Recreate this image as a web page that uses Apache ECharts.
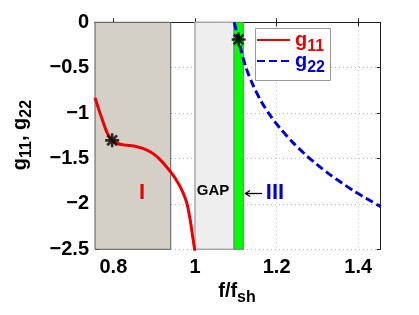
<!DOCTYPE html>
<html><head><meta charset="utf-8">
<script src="https://cdn.jsdelivr.net/npm/echarts@6/dist/echarts.min.js"></script>
<style>html,body{margin:0;padding:0;background:#fff}#c{width:419px;height:315px}</style>
</head><body><div id="c"></div><script>
// ---- data ----
const xTicks = [0.8, 1.0, 1.2, 1.4];
const yTicks = [0, -0.5, -1, -1.5, -2, -2.5];
const xRange = [0.755, 1.455];
const yRange = [-2.5, 0];
const g11F = [0.755, 0.765, 0.775, 0.785, 0.797, 0.81, 0.825, 0.84, 0.855, 0.87, 0.885, 0.90, 0.915, 0.93, 0.945, 0.96, 0.97, 0.98, 0.988, 0.994, 0.998, 1.0];
const g11V = [-0.83, -0.97, -1.10, -1.22, -1.30, -1.335, -1.350, -1.358, -1.367, -1.385, -1.413, -1.455, -1.515, -1.59, -1.675, -1.78, -1.87, -1.99, -2.17, -2.35, -2.47, -2.53];
const g22F = [1.096, 1.107, 1.113, 1.125, 1.142, 1.162, 1.185, 1.21, 1.24, 1.27, 1.30, 1.33, 1.36, 1.39, 1.42, 1.455];
const g22V = [0, -0.19, -0.31, -0.50, -0.69, -0.87, -1.03, -1.175, -1.325, -1.455, -1.57, -1.675, -1.77, -1.86, -1.94, -2.03];
const starF = [0.797, 1.107];
const starV = [-1.30, -0.19];
const regionI = [0.755, 0.9405];
const regionGap = [1.0, 1.0956];
const regionIII = [1.0956, 1.1185];
const seriesNames = ['g11', 'g22'];

// ---- styles ----
const FONT = 'Liberation Sans';
const RED = '#ee0000';
const BLUE = '#0000dd';
const fmtNum = v => (Math.abs(v) < 1e-9 ? '0' : String(Math.round(v * 10) / 10).replace('-', '\u2212'));
const zip = (a, b) => a.map((v, i) => [v, b[i]]);
const STAR = 'path://M0,-10 L0,10 M-10,0 L10,0 M-7,-7 L7,7 M-7,7 L7,-7';
const subRich = (color) => ({
  m: { fontFamily: FONT, fontWeight: 'bold', fontSize: 20, lineHeight: 20, color: color },
  s: { fontFamily: FONT, fontWeight: 'bold', fontSize: 16, lineHeight: 20, padding: [14, 0, 0, 0], color: color }
});
const axisCommon = {
  axisLine: { show: true, lineStyle: { color: '#222', width: 1 } },
  axisTick: { show: true, inside: true, length: 4, lineStyle: { color: '#222' } }
};
const legendFor = (name, color, top) => ({
  left: 256, top: top, orient: 'vertical', z: 6,
  padding: 0, itemWidth: 33, itemHeight: 12,
  backgroundColor: 'rgba(0,0,0,0)', borderWidth: 0,
  selectedMode: false,
  itemStyle: { color: 'rgba(0,0,0,0)', borderColor: 'rgba(0,0,0,0)', borderWidth: 0 },
  data: [{ name: name, textStyle: { rich: subRich(color) } }],
  formatter: n => '{m|g}{s|' + n.slice(1) + '}'
});

const chart = echarts.init(document.getElementById('c'), null, { renderer: 'canvas' });
chart.setOption({
  animation: false,
  backgroundColor: '#fff',
  grid: { left: 95, right: 38.3, top: 22.3, bottom: 65.7, containLabel: false },
  xAxis: [
    Object.assign({}, axisCommon, {
      type: 'value', position: 'bottom', min: xRange[0], max: xRange[1],
      axisTick: Object.assign({}, axisCommon.axisTick, { customValues: xTicks }),
      axisLabel: { customValues: xTicks, formatter: fmtNum, margin: 8, color: '#000', fontFamily: FONT, fontWeight: 'bold', fontSize: 20 },
      splitLine: { show: true, lineStyle: { color: '#b8b8b8', type: [1, 3], width: 1 } }
    }),
    Object.assign({}, axisCommon, {
      type: 'value', position: 'top', min: xRange[0], max: xRange[1],
      axisTick: Object.assign({}, axisCommon.axisTick, { customValues: xTicks }),
      axisLabel: { show: false, customValues: xTicks },
      splitLine: { show: false }
    })
  ],
  yAxis: [
    Object.assign({}, axisCommon, {
      type: 'value', position: 'left', min: yRange[0], max: yRange[1], interval: 0.5,
      axisLabel: { formatter: fmtNum, margin: 6, color: '#000', fontFamily: FONT, fontWeight: 'bold', fontSize: 20 },
      splitLine: { show: true, lineStyle: { color: '#b8b8b8', type: [1, 3], width: 1 } }
    }),
    Object.assign({}, axisCommon, {
      type: 'value', position: 'right', min: yRange[0], max: yRange[1], interval: 0.5,
      axisLabel: { show: false }, splitLine: { show: false }
    })
  ],
  legend: [legendFor(seriesNames[0], RED, 25), legendFor(seriesNames[1], BLUE, 46)],
  series: [
    {
      name: 'regions', type: 'line', data: [], z: 1, silent: true,
      markArea: {
        silent: true,
        data: [
          [{ xAxis: regionI[0], itemStyle: { color: '#d4d0c8', borderColor: '#5a5a5a', borderWidth: 1 } }, { xAxis: regionI[1] }],
          [{ xAxis: regionGap[0], itemStyle: { color: '#eeeeee', borderColor: '#a8a8a8', borderWidth: 1.5 } }, { xAxis: regionGap[1] }],
          [{ xAxis: regionIII[0], itemStyle: { color: '#00ff00', borderColor: '#7a7a7a', borderWidth: 1 } }, { xAxis: regionIII[1] }]
        ]
      }
    },
    {
      name: seriesNames[0], type: 'line', z: 3, data: zip(g11F, g11V), showSymbol: false, symbol: 'none',
      smooth: 0.3,
      lineStyle: { color: RED, width: 3 }, itemStyle: { color: RED }
    },
    {
      name: seriesNames[1], type: 'line', z: 3, data: zip(g22F, g22V), showSymbol: false, symbol: 'none',
      smooth: 0.3,
      lineStyle: { color: BLUE, width: 3, type: [8, 4] }, itemStyle: { color: BLUE }
    },
    {
      name: 'stars', type: 'scatter', z: 4, data: zip(starF, starV), symbol: STAR, symbolSize: 14,
      itemStyle: { color: 'none', borderColor: '#000', borderWidth: 2.6 }, silent: true
    }
  ],
  graphic: [
    { type: 'rect', z: 5, shape: { x: 255.5, y: 28.5, width: 75, height: 52 }, style: { fill: '#fff', stroke: '#999', lineWidth: 1 } },
    { type: 'text', x: 142, y: 193, z: 10, style: { text: 'I', fill: RED, fontFamily: FONT, fontWeight: 'bold', fontSize: 22, align: 'center', verticalAlign: 'middle' } },
    { type: 'text', x: 213, y: 191, z: 10, style: { text: 'GAP', fill: '#000', fontFamily: FONT, fontWeight: 'bold', fontSize: 15, align: 'center', verticalAlign: 'middle' } },
    { type: 'polyline', z: 10, shape: { points: [[262, 193.5], [245.5, 193.5]] }, style: { stroke: '#000', lineWidth: 1.3 } },
    { type: 'polyline', z: 10, shape: { points: [[250, 190.5], [245.5, 193.5], [250, 196.5]] }, style: { stroke: '#000', lineWidth: 1.3, fill: null } },
    { type: 'text', x: 275, y: 193, z: 10, style: { text: 'III', fill: BLUE, fontFamily: FONT, fontWeight: 'bold', fontSize: 22, align: 'center', verticalAlign: 'middle' } },
    { type: 'text', x: 237, y: 291, z: 10, style: { text: '{m|f/f}{s|sh}', align: 'center', verticalAlign: 'middle', rich: subRich('#000') } },
    { type: 'text', x: 20, y: 135, rotation: Math.PI / 2, z: 10, style: { text: '{m|g}{s|11}{m|, g}{s|22}', align: 'center', verticalAlign: 'middle', rich: subRich('#000') } }
  ]
});
</script></body></html>
